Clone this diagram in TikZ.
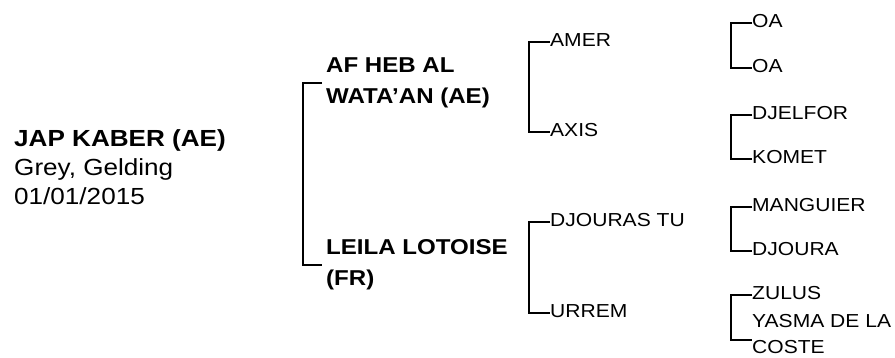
\documentclass[tikz,border=0pt]{standalone}
\usepackage{fontspec}
\setmainfont{Liberation Sans}[FakeStretch=1.12]
\usetikzlibrary{positioning}

\tikzset{
  horse/.style={anchor=west, inner sep=0pt, align=left},
  sire/.style={horse, font=\bfseries\fontsize{21.5}{31}\selectfont},
  anc/.style={horse, font=\fontsize{18.8}{26}\selectfont},
  link/.style={line width=2pt}
}

\begin{document}
\begin{tikzpicture}[x=1pt, y=-1pt]
    \useasboundingbox (0,0) rectangle (895,358);
    % subject
    \node[horse, font=\fontsize{23.3}{29}\selectfont] (H) at (14,167.5)
        {\textbf{JAP KABER (AE)}\\Grey, Gelding\\01/01/2015};
    % parents
    \node[sire] (S) at (326,83) {AF HEB AL\\WATA'AN (AE)};
    \node[sire] (D) at (326,265) {LEILA LOTOISE\\(FR)};
    % grandparents
    \node[anc] (SS) at (550,40) {AMER};
    \node[anc] (SD) at (550,130) {AXIS};
    \node[anc] (DS) at (550,220) {DJOURAS TU};
    \node[anc] (DD) at (550,311) {URREM};
    % great grandparents
    \node[anc] (SSS) at (752,21.5) {OA};
    \node[anc] (SSD) at (752,66.5) {OA};
    \node[anc] (SDS) at (752,113) {DJELFOR};
    \node[anc] (SDD) at (752,157) {KOMET};
    \node[anc] (DSS) at (752,205) {MANGUIER};
    \node[anc] (DSD) at (752,249) {DJOURA};
    \node[anc] (DDS) at (752,293) {ZULUS};
    \node[anc] (DDD) at (752,334.5) {YASMA DE LA\\COSTE};
    % brackets
    \draw[link] ([xshift=-4pt]S.west) -| ([xshift=-23pt]D.west) -- ([xshift=-4pt]D.west);
    \foreach \a/\b in {SS/SD, DS/DD, SSS/SSD, SDS/SDD, DSS/DSD}
        \draw[link] ([yshift=-2pt]\a.west) -| ([xshift=-21pt,yshift=-2pt]\b.west)
            -- ([yshift=-2pt]\b.west);
    \draw[link] ([yshift=-2pt]DDS.west) -| ([xshift=-21pt,yshift=-6pt]DDD.west)
        -- ([yshift=-6pt]DDD.west);
\end{tikzpicture}
\end{document}
